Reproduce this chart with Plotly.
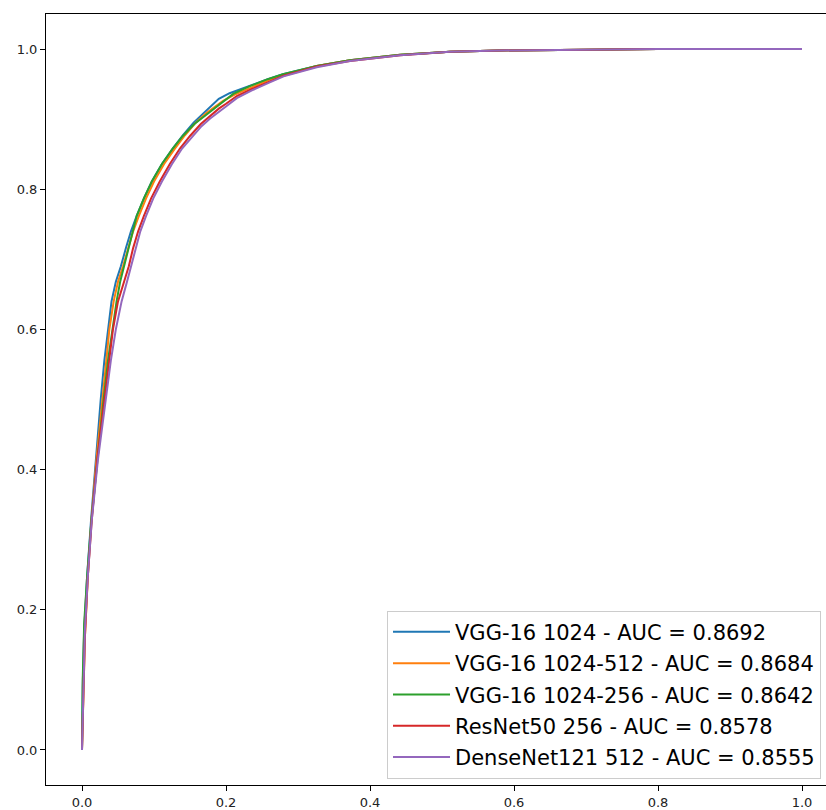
import plotly.graph_objects as go

# ROC curve data
labels = [
    "VGG-16 1024 - AUC = 0.8692",
    "VGG-16 1024-512 - AUC = 0.8684",
    "VGG-16 1024-256 - AUC = 0.8642",
    "ResNet50 256 - AUC = 0.8578",
    "DenseNet121 512 - AUC = 0.8555",
]
colors = ["#1f77b4", "#ff7f0e", "#2ca02c", "#d62728", "#9467bd"]

fpr_vgg1024 = [0.0, 0.001, 0.003, 0.007, 0.0125, 0.019, 0.026, 0.031, 0.036, 0.041, 0.047, 0.054, 0.061, 0.068, 0.076, 0.086, 0.097, 0.111, 0.126, 0.140, 0.155, 0.168, 0.180, 0.190, 0.205, 0.233, 0.258, 0.279, 0.326, 0.372, 0.442, 0.511, 0.580, 0.700, 0.800, 1.0]
tpr_vgg1024 = [0.0, 0.09, 0.17, 0.246, 0.327, 0.413, 0.50, 0.555, 0.600, 0.640, 0.668, 0.690, 0.716, 0.740, 0.762, 0.787, 0.811, 0.836, 0.858, 0.877, 0.895, 0.908, 0.920, 0.929, 0.937, 0.948, 0.957, 0.964, 0.976, 0.984, 0.992, 0.996, 0.998, 0.999, 1.0, 1.0]

fpr_vgg512 = [0.0, 0.002, 0.004, 0.008, 0.013, 0.020, 0.028, 0.033, 0.038, 0.044, 0.050, 0.057, 0.064, 0.071, 0.079, 0.089, 0.100, 0.114, 0.129, 0.143, 0.158, 0.172, 0.185, 0.196, 0.212, 0.236, 0.260, 0.280, 0.326, 0.372, 0.442, 0.511, 0.580, 0.700, 0.800, 1.0]
tpr_vgg512 = [0.0, 0.07, 0.16, 0.246, 0.327, 0.413, 0.50, 0.555, 0.600, 0.640, 0.668, 0.690, 0.716, 0.740, 0.762, 0.787, 0.811, 0.836, 0.858, 0.877, 0.895, 0.908, 0.918, 0.926, 0.935, 0.946, 0.956, 0.963, 0.976, 0.984, 0.992, 0.996, 0.998, 0.999, 1.0, 1.0]

fpr_vgg256 = [0.0, 0.001, 0.003, 0.007, 0.013, 0.021, 0.030, 0.036, 0.042, 0.048, 0.053, 0.059, 0.064, 0.070, 0.076, 0.086, 0.097, 0.111, 0.126, 0.140, 0.156, 0.170, 0.183, 0.195, 0.210, 0.233, 0.258, 0.279, 0.326, 0.372, 0.442, 0.511, 0.580, 0.700, 0.800, 1.0]
tpr_vgg256 = [0.0, 0.10, 0.18, 0.246, 0.327, 0.413, 0.50, 0.555, 0.600, 0.640, 0.668, 0.692, 0.716, 0.740, 0.762, 0.787, 0.811, 0.836, 0.858, 0.876, 0.893, 0.904, 0.914, 0.924, 0.936, 0.947, 0.957, 0.964, 0.976, 0.984, 0.992, 0.996, 0.998, 0.999, 1.0, 1.0]

fpr_resnet = [0.0, 0.002, 0.004, 0.008, 0.0135, 0.021, 0.031, 0.037, 0.043, 0.050, 0.058, 0.065, 0.071, 0.078, 0.086, 0.096, 0.108, 0.122, 0.136, 0.150, 0.165, 0.178, 0.190, 0.200, 0.215, 0.236, 0.260, 0.280, 0.326, 0.372, 0.442, 0.511, 0.580, 0.700, 0.800, 1.0]
tpr_resnet = [0.0, 0.08, 0.16, 0.246, 0.327, 0.413, 0.50, 0.555, 0.600, 0.640, 0.668, 0.690, 0.716, 0.740, 0.762, 0.787, 0.811, 0.836, 0.858, 0.876, 0.893, 0.904, 0.915, 0.922, 0.933, 0.943, 0.954, 0.962, 0.975, 0.983, 0.991, 0.996, 0.998, 0.999, 1.0, 1.0]

fpr_densenet = [0.0, 0.002, 0.004, 0.008, 0.0135, 0.022, 0.033, 0.040, 0.047, 0.055, 0.0625, 0.068, 0.074, 0.081, 0.089, 0.099, 0.111, 0.125, 0.139, 0.152, 0.166, 0.178, 0.190, 0.200, 0.215, 0.236, 0.260, 0.280, 0.326, 0.372, 0.442, 0.511, 0.580, 0.700, 0.800, 1.0]
tpr_densenet = [0.0, 0.09, 0.17, 0.246, 0.327, 0.413, 0.50, 0.555, 0.600, 0.640, 0.668, 0.690, 0.716, 0.740, 0.762, 0.787, 0.811, 0.836, 0.858, 0.874, 0.890, 0.901, 0.911, 0.918, 0.930, 0.941, 0.952, 0.961, 0.974, 0.983, 0.991, 0.996, 0.998, 0.999, 1.0, 1.0]

tick_vals = [0.0, 0.2, 0.4, 0.6, 0.8, 1.0]
tick_text = ["0.0", "0.2", "0.4", "0.6", "0.8", "1.0"]

series = [
    (fpr_vgg1024, tpr_vgg1024),
    (fpr_vgg512, tpr_vgg512),
    (fpr_vgg256, tpr_vgg256),
    (fpr_resnet, tpr_resnet),
    (fpr_densenet, tpr_densenet),
]

fig = go.Figure()
for i, ((fx, ty), lab, col) in enumerate(zip(series, labels, colors)):
    fig.add_trace(go.Scatter(
        x=fx, y=ty, mode="lines", name=lab,
        line=dict(color=col, width=2),
        legendgroup=f"g{i}",
    ))

W, H = 826, 810
L, R, T, B = 46, 0, 14, 22
fig.update_layout(
    width=W, height=H,
    margin=dict(l=L, r=R, t=T, b=B, pad=0),
    paper_bgcolor="white", plot_bgcolor="white",
    font=dict(family="DejaVu Sans", size=13, color="#222222"),
    showlegend=True,
    legend=dict(
        x=(387 - L) / (W - L - R), xanchor="left",
        y=(H - B - 613) / (H - T - B), yanchor="top",
        bgcolor="rgba(255,255,255,0.8)",
        bordercolor="#cccccc", borderwidth=1,
        font=dict(family="DejaVu Sans", size=21, color="black"),
        traceorder="grouped", tracegroupgap=1,
        itemwidth=57,
    ),
)
fig.update_xaxes(
    range=[-0.05, (W - R - 82) / 720.0],
    tickvals=tick_vals, ticktext=tick_text,
    showgrid=False, zeroline=False,
    showline=True, linecolor="black", linewidth=1, mirror=True,
    ticks="outside", ticklen=5, tickwidth=1, tickcolor="black",
    tickfont=dict(family="DejaVu Sans", size=13, color="#222222"),
)
fig.update_yaxes(
    range=[-0.05, 1.05],
    tickvals=tick_vals, ticktext=tick_text,
    showgrid=False, zeroline=False,
    showline=True, linecolor="black", linewidth=1, mirror=False,
    ticks="outside", ticklen=5, tickwidth=1, tickcolor="black",
    tickfont=dict(family="DejaVu Sans", size=13, color="#222222"),
)

fig.write_html(
    "out.html",
    config={"displayModeBar": False},
    post_script="document.body.style.margin='0px';document.body.style.overflow='hidden';",
)
